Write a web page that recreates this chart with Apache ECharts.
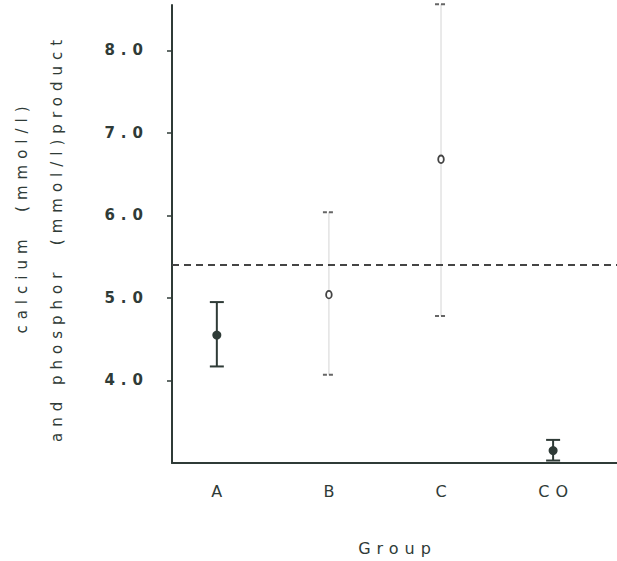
<!DOCTYPE html>
<html>
<head>
<meta charset="utf-8">
<script src="https://cdn.jsdelivr.net/npm/echarts@6/dist/echarts.min.js"></script>
<style>
  html, body { margin: 0; padding: 0; background: #fff; }
  #chart { width: 617px; height: 561px; }
  /* the scanned figure uses a very wide, spaced-out typeface */
  #chart svg text { letter-spacing: 6px; }
</style>
</head>
<body>
<div id="chart"></div>
<script>
// group names and their position on the x value axis
const categories = ['A', 'B', 'C', 'CO'];
const groupPos = [1, 2, 3, 4];
// mean and error bar ends
const means = [4.55, 5.04, 6.68, 3.15];
const lower = [4.17, 4.07, 4.78, 3.03];
const upper = [4.95, 6.04, 8.56, 3.28];
const yTicks = [4, 5, 6, 7, 8];
const referenceLine = 5.4;

const ink = '#2f3b37';
const faded = ['B', 'C']; // groups that are printed faint in the scan

const chart = echarts.init(document.getElementById('chart'), null, { renderer: 'svg' });

const barData = categories.map((c, i) => [groupPos[i], means[i], lower[i], upper[i]]);

function renderBar(params, api) {
  const x = api.value(0);
  const pMean = api.coord([x, api.value(1)]);
  const pLow = api.coord([x, api.value(2)]);
  const pHigh = api.coord([x, api.value(3)]);
  const light = faded.includes(categories[params.dataIndex]);
  const half = light ? 6 : 7;
  const children = [];
  if (light) {
    children.push(
      { type: 'line', shape: { x1: pHigh[0], y1: pHigh[1], x2: pLow[0], y2: pLow[1] },
        style: { stroke: '#d4d4d4', lineWidth: 1 } },
      { type: 'line', shape: { x1: pHigh[0] - half, y1: pHigh[1], x2: pHigh[0] + half, y2: pHigh[1] },
        style: { stroke: '#666', lineWidth: 2, lineDash: [4, 2] } },
      { type: 'line', shape: { x1: pLow[0] - half, y1: pLow[1], x2: pLow[0] + half, y2: pLow[1] },
        style: { stroke: '#666', lineWidth: 2, lineDash: [4, 2] } },
      { type: 'ellipse', shape: { cx: pMean[0], cy: pMean[1], rx: 2.8, ry: 3.8 },
        style: { fill: '#fff', stroke: '#444', lineWidth: 1.8 } }
    );
  } else {
    children.push(
      { type: 'line', shape: { x1: pHigh[0], y1: pHigh[1], x2: pLow[0], y2: pLow[1] },
        style: { stroke: ink, lineWidth: 2 } },
      { type: 'line', shape: { x1: pHigh[0] - half, y1: pHigh[1], x2: pHigh[0] + half, y2: pHigh[1] },
        style: { stroke: ink, lineWidth: 2 } },
      { type: 'line', shape: { x1: pLow[0] - half, y1: pLow[1], x2: pLow[0] + half, y2: pLow[1] },
        style: { stroke: ink, lineWidth: 2 } },
      { type: 'circle', shape: { cx: pMean[0], cy: pMean[1], r: 4.5 },
        style: { fill: ink } }
    );
  }
  return { type: 'group', children };
}

chart.setOption({
  animation: false,
  textStyle: { fontFamily: 'DejaVu Sans', color: ink },
  grid: { left: 172, right: 0, top: 5, bottom: 98 },
  xAxis: {
    type: 'value',
    min: 0.6,
    max: 4.57,
    splitLine: { show: false },
    axisLine: { show: true, onZero: false, lineStyle: { color: ink, width: 2 } },
    axisTick: { show: false },
    axisLabel: {
      customValues: groupPos,
      margin: 20,
      fontSize: 16,
      color: ink,
      padding: [0, 0, 0, 6],
      formatter: (v) => categories[groupPos.indexOf(v)] || ''
    },
    name: 'Group',
    nameLocation: 'middle',
    nameGap: 77,
    nameTextStyle: { fontSize: 16, color: ink, padding: [0, 0, 0, 6] }
  },
  yAxis: {
    type: 'value',
    min: 3,
    max: 8.55,
    splitLine: { show: false },
    axisLine: { show: true, lineStyle: { color: ink, width: 2 } },
    axisTick: { show: true, customValues: yTicks, length: 5, lineStyle: { color: ink, width: 1.5 } },
    axisLabel: {
      customValues: yTicks,
      margin: 23,
      fontSize: 15,
      fontWeight: 'bold',
      color: ink,
      formatter: (v) => v.toFixed(1)
    }
  },
  graphic: [
    { type: 'text', x: 22, y: 217, rotation: Math.PI / 2,
      style: { text: 'calcium  (mmol/l)', fontSize: 15, fontFamily: 'DejaVu Sans', fill: ink,
        textAlign: 'center', textVerticalAlign: 'middle' } },
    { type: 'text', x: 57, y: 238, rotation: Math.PI / 2,
      style: { text: 'and phosphor  (mmol/l)product', fontSize: 15, fontFamily: 'DejaVu Sans', fill: ink,
        textAlign: 'center', textVerticalAlign: 'middle' } }
  ],
  series: [
    {
      type: 'custom',
      renderItem: renderBar,
      data: barData,
      encode: { x: 0, y: [1, 2, 3] },
      markLine: {
        silent: true,
        symbol: 'none',
        label: { show: false },
        lineStyle: { color: '#444', type: [7, 5], width: 2 },
        data: [{ yAxis: referenceLine }]
      }
    }
  ]
});
</script>
</body>
</html>
